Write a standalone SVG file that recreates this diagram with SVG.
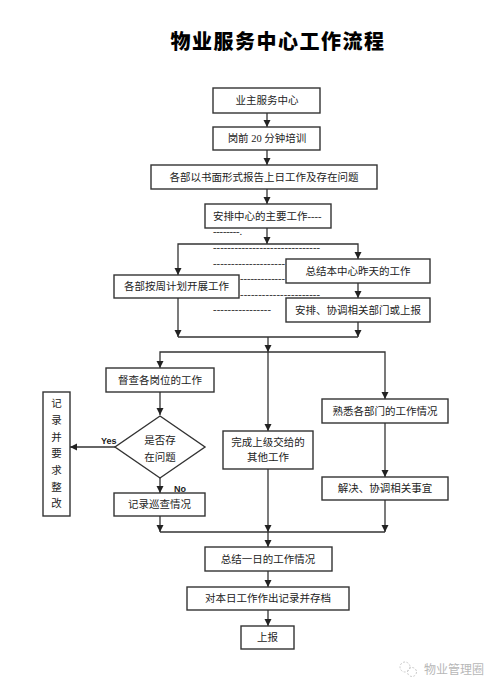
<svg xmlns="http://www.w3.org/2000/svg" width="501" height="693" viewBox="0 0 501 693">
<defs>
<style>
.box{fill:#fff;stroke:#333;stroke-width:1.4}
.t{font-family:"Liberation Serif","Noto Sans CJK SC",serif;font-size:10.5px;fill:#222;text-anchor:middle}
.d{font-family:"Liberation Serif","Noto Sans CJK SC",serif;font-size:10.5px;fill:#222}
.c{fill:none;stroke:#333;stroke-width:1.3}
.yn{font-family:"Liberation Sans","DejaVu Sans",sans-serif;font-size:9px;font-weight:bold;fill:#222}
</style>
<marker id="ah" markerUnits="userSpaceOnUse" markerWidth="8" markerHeight="8" refX="7" refY="3.5" orient="auto">
<path d="M0,0 L7,3.5 L0,7 z" fill="#222"/>
</marker>
</defs>
<rect width="501" height="693" fill="#fff"/>
<text x="278" y="49" style="font-family:'Noto Sans CJK SC',sans-serif;font-size:20px;font-weight:900;fill:#000;text-anchor:middle;letter-spacing:1.5px">物业服务中心工作流程</text>

<g id="connectors">
<path class="c" d="M267,113 V127" marker-end="url(#ah)"/>
<path class="c" d="M267,150 V165" marker-end="url(#ah)"/>
<path class="c" d="M267,189 V204" marker-end="url(#ah)"/>
<path class="c" d="M267,228 V244" marker-end="url(#ah)"/>
<path class="c" d="M267,244 H178 V275" marker-end="url(#ah)"/>
<path class="c" d="M267,244 H358 V259" marker-end="url(#ah)"/>
<path class="c" d="M358,283 V298" marker-end="url(#ah)"/>
<path class="c" d="M178,298 V337" marker-end="url(#ah)"/>
<path class="c" d="M358,322 V337" marker-end="url(#ah)"/>
<path class="c" d="M178,337 H358"/>
<path class="c" d="M268,337 V352" marker-end="url(#ah)"/>
<path class="c" d="M268,352 H160 V368" marker-end="url(#ah)"/>
<path class="c" d="M268,352 H385 V399" marker-end="url(#ah)"/>
<path class="c" d="M268,352 V431" marker-end="url(#ah)"/>
<path class="c" d="M160,392 V415" marker-end="url(#ah)"/>
<path class="c" d="M115,447 H70" marker-end="url(#ah)"/>
<path class="c" d="M160,478 V493" marker-end="url(#ah)"/>
<path class="c" d="M385,423 V477" marker-end="url(#ah)"/>
<path class="c" d="M160,516 V532" marker-end="url(#ah)"/>
<path class="c" d="M268,469 V532" marker-end="url(#ah)"/>
<path class="c" d="M385,500 V532" marker-end="url(#ah)"/>
<path class="c" d="M160,532 H385"/>
<path class="c" d="M268,532 V547" marker-end="url(#ah)"/>
<path class="c" d="M268,571 V587" marker-end="url(#ah)"/>
<path class="c" d="M268,610 V626" marker-end="url(#ah)"/>
<text class="yn" x="101" y="444">Yes</text>
<text class="yn" x="174" y="492">No</text>
</g>

<g id="dashes">
<text class="d" x="213" y="235" textLength="29" lengthAdjust="spacing">--------.</text>
<text class="d" x="213" y="251" textLength="107" lengthAdjust="spacing">------------------------------</text>
<text class="d" x="213" y="267" textLength="72" lengthAdjust="spacing">--------------------</text>
<text class="d" x="240" y="282" textLength="45" lengthAdjust="spacing">-------------</text>
<text class="d" x="240" y="298" textLength="80" lengthAdjust="spacing">----------------------</text>
<text class="d" x="213" y="313" textLength="58" lengthAdjust="spacing">----------------</text>
</g>

<g id="n1"><rect class="box" x="213" y="88" width="107" height="25"/><text class="t" x="267" y="104">业主服务中心</text></g>
<g id="n2"><rect class="box" x="213" y="127" width="107" height="23"/><text class="t" x="267" y="142">岗前 20 分钟培训</text></g>
<g id="n3"><rect class="box" x="151" y="165" width="226" height="24"/><text class="t" x="264" y="181">各部以书面形式报告上日工作及存在问题</text></g>
<g id="n4"><rect class="box" x="205" y="204" width="126" height="24"/><text class="d" x="213" y="220">安排中心的主要工作----</text></g>
<g id="n5"><rect class="box" x="114" y="275" width="125" height="23"/><text class="t" x="176.5" y="290">各部按周计划开展工作</text></g>
<g id="n6"><rect class="box" x="286" y="259" width="144" height="24"/><text class="t" x="358" y="275">总结本中心昨天的工作</text></g>
<g id="n7"><rect class="box" x="286" y="298" width="144" height="24"/><text class="t" x="358" y="314">安排、协调相关部门或上报</text></g>
<g id="n8"><rect class="box" x="106" y="368" width="108" height="24"/><text class="t" x="160" y="384">督查各岗位的工作</text></g>
<g id="n9"><path class="box" d="M160,416 L205,447 L160,478 L115,447 z"/><text class="t" x="160" y="444">是否存</text><text class="t" x="160" y="461">在问题</text></g>
<g id="n10"><rect class="box" x="43" y="392" width="27" height="124"/>
<text class="t" x="56.5" y="407">记</text><text class="t" x="56.5" y="424">录</text><text class="t" x="56.5" y="441">并</text><text class="t" x="56.5" y="457">要</text><text class="t" x="56.5" y="474">求</text><text class="t" x="56.5" y="491">整</text><text class="t" x="56.5" y="507">改</text></g>
<g id="n11"><rect class="box" x="114" y="493" width="91" height="23"/><text class="t" x="159.5" y="508">记录巡查情况</text></g>
<g id="n12"><rect class="box" x="223" y="431" width="90" height="38"/><text class="t" x="268" y="446">完成上级交给的</text><text class="t" x="268" y="461">其他工作</text></g>
<g id="n13"><rect class="box" x="322" y="399" width="126" height="24"/><text class="t" x="385" y="415">熟悉各部门的工作情况</text></g>
<g id="n14"><rect class="box" x="322" y="477" width="126" height="23"/><text class="t" x="385" y="492">解决、协调相关事宜</text></g>
<g id="n15"><rect class="box" x="205" y="547" width="127" height="24"/><text class="t" x="268" y="563">总结一日的工作情况</text></g>
<g id="n16"><rect class="box" x="187" y="587" width="162" height="23"/><text class="t" x="268" y="602">对本日工作作出记录并存档</text></g>
<g id="n17"><rect class="box" x="241" y="626" width="53" height="23"/><text class="t" x="267.5" y="641">上报</text></g>

<g id="watermark" opacity="0.6">
<circle cx="405" cy="667" r="5" fill="none" stroke="#aaa" stroke-width="1" stroke-dasharray="2,1.5"/>
<circle cx="412" cy="672" r="4.5" fill="none" stroke="#aaa" stroke-width="1" stroke-dasharray="2,1.5"/>
<text x="424" y="674" style="font-family:'Noto Sans CJK SC',sans-serif;font-size:12px;fill:#888">物业管理圈</text>
</g>
</svg>
